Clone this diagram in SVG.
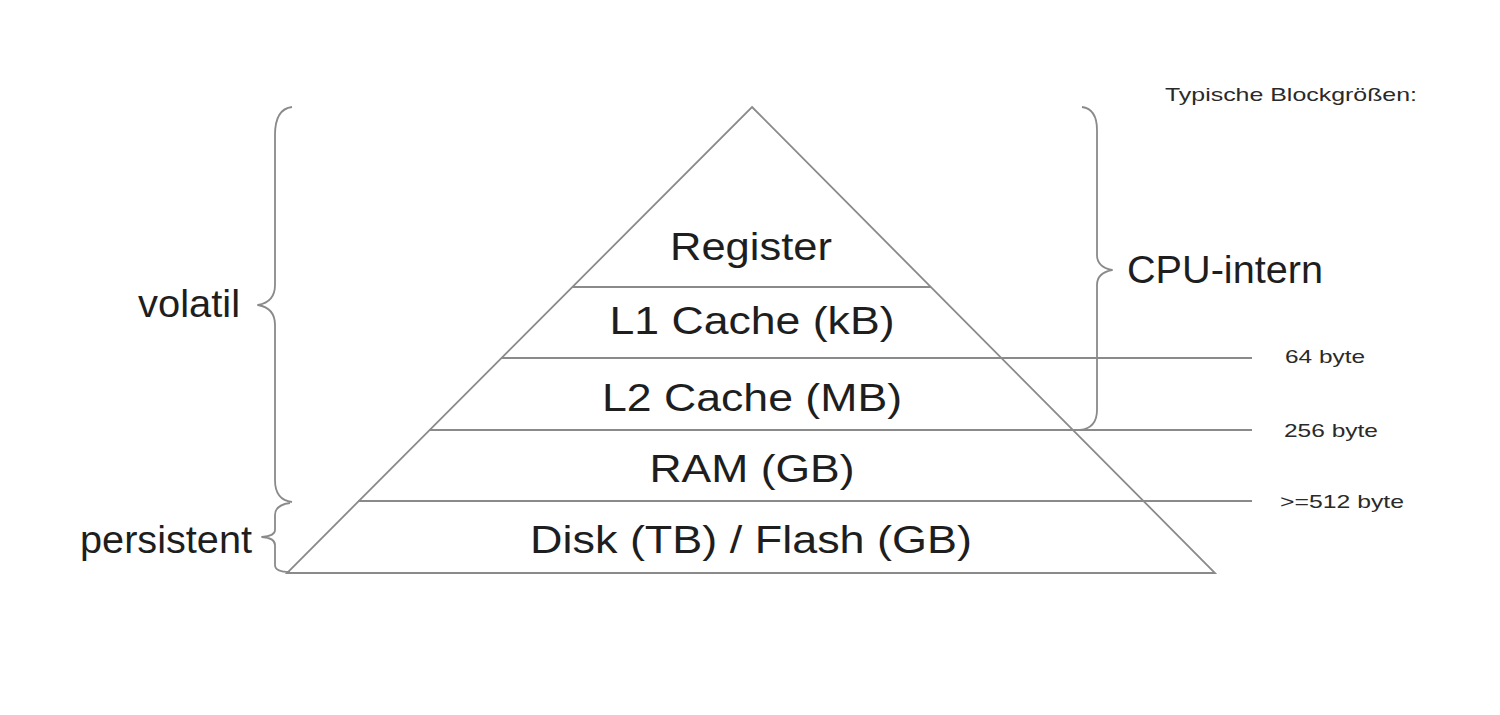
<svg xmlns="http://www.w3.org/2000/svg" width="1500" height="715" viewBox="0 0 1500 715">
  <style>
    .ln { fill: none; stroke: #8a8a8a; stroke-width: 1.8; }
    .br { fill: none; stroke: #8a8a8a; stroke-width: 1.8; stroke-linejoin: round; }
    .big { font-family: "Liberation Sans", Arial, sans-serif; font-size: 38px; fill: #1e1e1e; }
    .small { font-family: "Liberation Sans", Arial, sans-serif; font-size: 19px; fill: #2a2a2a; }
  </style>
  <rect width="1500" height="715" fill="#ffffff"/>

  <g id="pyramid">
    <polygon class="ln" points="752,107 1215,573 287,573"/>
  </g>

  <g id="connectors">
    <line class="ln" x1="572" y1="287" x2="931" y2="287"/>
    <line class="ln" x1="501" y1="358" x2="1252" y2="358"/>
    <line class="ln" x1="429" y1="430" x2="1252" y2="430"/>
    <line class="ln" x1="358" y1="501" x2="1252" y2="501"/>
  </g>

  <g id="register">
    <text class="big" x="751" y="260" text-anchor="middle" textLength="162" lengthAdjust="spacingAndGlyphs">Register</text>
  </g>
  <g id="l1cache">
    <text class="big" x="752" y="334" text-anchor="middle" textLength="285" lengthAdjust="spacingAndGlyphs">L1 Cache (kB)</text>
  </g>
  <g id="l2cache">
    <text class="big" x="752" y="411" text-anchor="middle" textLength="300" lengthAdjust="spacingAndGlyphs">L2 Cache (MB)</text>
  </g>
  <g id="ram">
    <text class="big" x="752" y="482" text-anchor="middle" textLength="205" lengthAdjust="spacingAndGlyphs">RAM (GB)</text>
  </g>
  <g id="disk">
    <text class="big" x="751" y="553" text-anchor="middle" textLength="442" lengthAdjust="spacingAndGlyphs">Disk (TB) / Flash (GB)</text>
  </g>

  <g id="volatil">
    <path class="br" d="M 292 107 Q 275 109 275 135 L 275 285 Q 275 302 258 305 Q 275 308 275 325 L 275 480 Q 275 500 292 502"/>
    <text class="big" x="138" y="317" textLength="102" lengthAdjust="spacingAndGlyphs">volatil</text>
  </g>
  <g id="persistent">
    <path class="br" d="M 290 503 Q 275 505 275 515 L 275 530 Q 275 536 262 537 Q 275 538 275 545 L 275 565 Q 275 572 290 572"/>
    <text class="big" x="80" y="553" textLength="172" lengthAdjust="spacingAndGlyphs">persistent</text>
  </g>
  <g id="cpu-intern">
    <path class="br" d="M 1082 107 Q 1097 109 1097 130 L 1097 255 Q 1097 267 1112 270 Q 1097 273 1097 285 L 1097 410 Q 1097 428 1080 430"/>
    <text class="big" x="1127" y="283" textLength="196" lengthAdjust="spacingAndGlyphs">CPU-intern</text>
  </g>

  <g id="blocksizes">
    <text class="small" x="1165" y="101" textLength="252" lengthAdjust="spacingAndGlyphs">Typische Blockgrößen:</text>
    <text class="small" x="1285" y="363" textLength="80" lengthAdjust="spacingAndGlyphs">64 byte</text>
    <text class="small" x="1284" y="437" textLength="94" lengthAdjust="spacingAndGlyphs">256 byte</text>
    <text class="small" x="1280" y="508" textLength="124" lengthAdjust="spacingAndGlyphs">&gt;=512 byte</text>
  </g>
</svg>
